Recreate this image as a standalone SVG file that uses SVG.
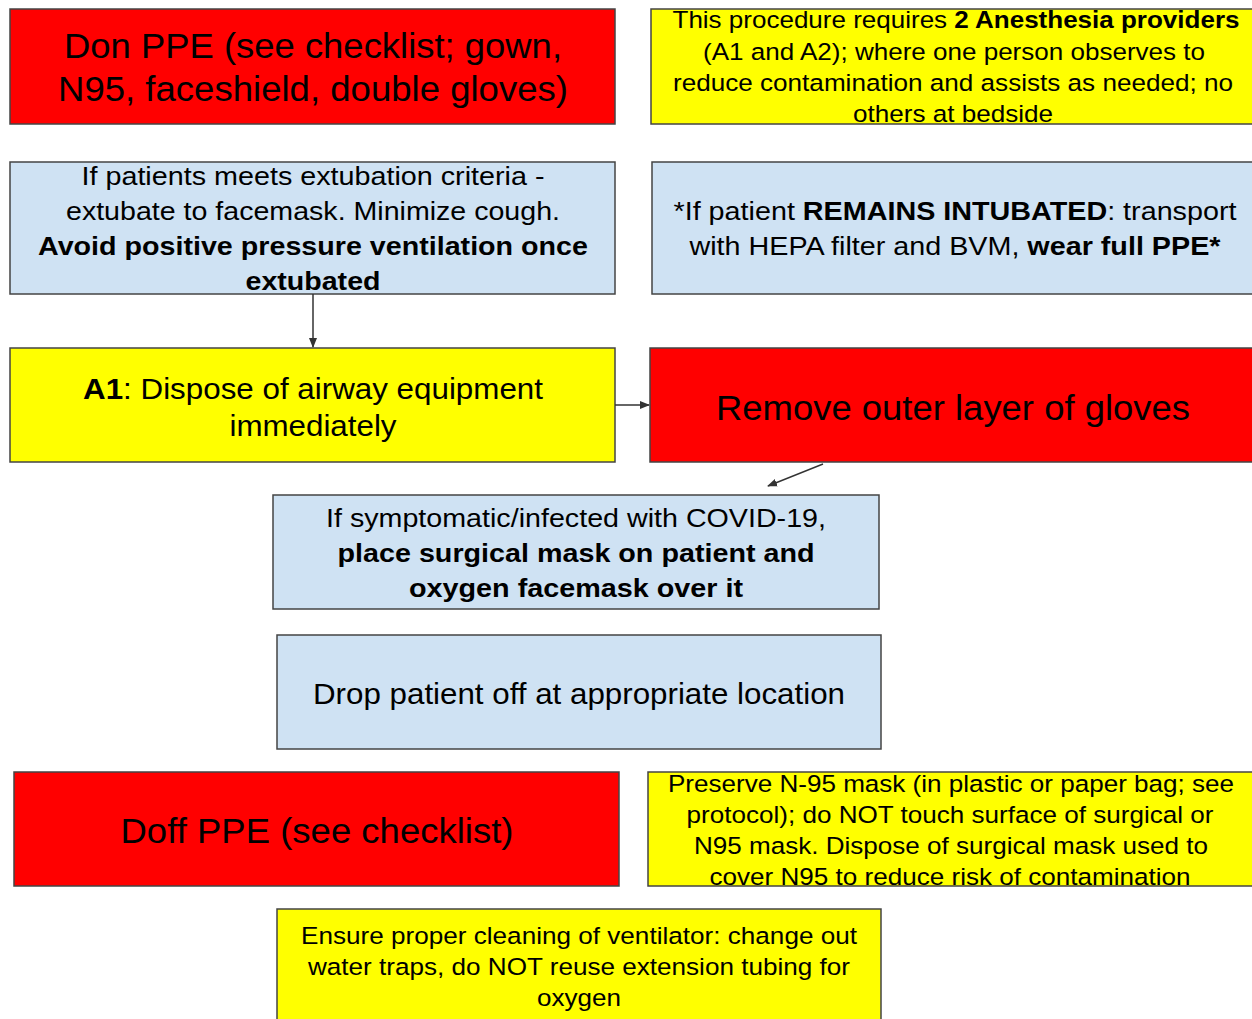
<svg xmlns="http://www.w3.org/2000/svg" width="1252" height="1019" viewBox="0 0 1252 1019">
<style>
text{font-family:"Liberation Sans",Arial,sans-serif;fill:#000;text-anchor:middle}
.box{stroke:#444;stroke-width:1.5}
.red{fill:#ff0000}.yel{fill:#ffff00}.blue{fill:#cfe2f3}
.b{font-weight:bold}
.conn{stroke:#333;stroke-width:1.5;fill:none;marker-end:url(#ah)}
</style>
<defs><marker id="ah" markerWidth="10" markerHeight="10" refX="9" refY="5" orient="auto" markerUnits="userSpaceOnUse"><path d="M0,1 L10,5 L0,9 z" fill="#333"/></marker></defs>
<rect width="1252" height="1019" fill="#fff"/>
<g id="n1"><rect class="box red" x="10" y="9" width="605" height="115"/>
<text font-size="35.5" x="313" y="58" textLength="498" lengthAdjust="spacingAndGlyphs">Don PPE (see checklist; gown,</text>
<text font-size="35.5" x="313" y="101" textLength="510" lengthAdjust="spacingAndGlyphs">N95, faceshield, double gloves)</text></g>
<g id="n2"><rect class="box yel" x="651" y="9" width="605" height="115"/>
<text font-size="24.5" x="956" y="28" textLength="567" lengthAdjust="spacingAndGlyphs">This procedure requires <tspan class="b">2 Anesthesia providers</tspan></text>
<text font-size="24.5" x="954" y="60" textLength="502" lengthAdjust="spacingAndGlyphs">(A1 and A2); where one person observes to</text>
<text font-size="24.5" x="953" y="91" textLength="560" lengthAdjust="spacingAndGlyphs">reduce contamination and assists as needed; no</text>
<text font-size="24.5" x="953" y="122" textLength="200" lengthAdjust="spacingAndGlyphs">others at bedside</text></g>
<g id="n3"><rect class="box blue" x="10" y="162" width="605" height="132"/>
<text font-size="26.5" x="313" y="185" textLength="463" lengthAdjust="spacingAndGlyphs">If patients meets extubation criteria -</text>
<text font-size="26.5" x="313" y="220" textLength="494" lengthAdjust="spacingAndGlyphs">extubate to facemask. Minimize cough.</text>
<text font-size="26.5" x="313" y="255" class="b" textLength="550" lengthAdjust="spacingAndGlyphs">Avoid positive pressure ventilation once</text>
<text font-size="26.5" x="313" y="290" class="b" textLength="135" lengthAdjust="spacingAndGlyphs">extubated</text></g>
<g id="n4"><rect class="box blue" x="652" y="162" width="604" height="132"/>
<text font-size="26.5" x="955" y="220" textLength="563" lengthAdjust="spacingAndGlyphs">*If patient <tspan class="b">REMAINS INTUBATED</tspan>: transport</text>
<text font-size="26.5" x="955" y="255" textLength="531" lengthAdjust="spacingAndGlyphs">with HEPA filter and BVM, <tspan class="b">wear full PPE*</tspan></text></g>
<g id="n5"><rect class="box yel" x="10" y="348" width="605" height="114"/>
<text font-size="29.5" x="313" y="399" textLength="460" lengthAdjust="spacingAndGlyphs"><tspan class="b">A1</tspan>: Dispose of airway equipment</text>
<text font-size="29.5" x="313" y="436" textLength="167" lengthAdjust="spacingAndGlyphs">immediately</text></g>
<g id="n6"><rect class="box red" x="650" y="348" width="606" height="114"/>
<text font-size="35.5" x="953" y="420" textLength="474" lengthAdjust="spacingAndGlyphs">Remove outer layer of gloves</text></g>
<g id="n7"><rect class="box blue" x="273" y="495" width="606" height="114"/>
<text font-size="26.5" x="576" y="527" textLength="500" lengthAdjust="spacingAndGlyphs">If symptomatic/infected with COVID-19,</text>
<text font-size="26.5" x="576" y="562" class="b" textLength="477" lengthAdjust="spacingAndGlyphs">place surgical mask on patient and</text>
<text font-size="26.5" x="576" y="597" class="b" textLength="334" lengthAdjust="spacingAndGlyphs">oxygen facemask over it</text></g>
<g id="n8"><rect class="box blue" x="277" y="635" width="604" height="114"/>
<text font-size="29.5" x="579" y="704" textLength="532" lengthAdjust="spacingAndGlyphs">Drop patient off at appropriate location</text></g>
<g id="n9"><rect class="box red" x="14" y="772" width="605" height="114"/>
<text font-size="35.5" x="317" y="843" textLength="393" lengthAdjust="spacingAndGlyphs">Doff PPE (see checklist)</text></g>
<g id="n10"><rect class="box yel" x="648" y="772" width="608" height="114"/>
<text font-size="24.5" x="951" y="792" textLength="566" lengthAdjust="spacingAndGlyphs">Preserve N-95 mask (in plastic or paper bag; see</text>
<text font-size="24.5" x="950" y="823" textLength="527" lengthAdjust="spacingAndGlyphs">protocol); do NOT touch surface of surgical or</text>
<text font-size="24.5" x="951" y="854" textLength="514" lengthAdjust="spacingAndGlyphs">N95 mask. Dispose of surgical mask used to</text>
<text font-size="24.5" x="950" y="885" textLength="481" lengthAdjust="spacingAndGlyphs">cover N95 to reduce risk of contamination</text></g>
<g id="n11"><rect class="box yel" x="277" y="909" width="604" height="115"/>
<text font-size="24.5" x="579" y="944" textLength="556" lengthAdjust="spacingAndGlyphs">Ensure proper cleaning of ventilator: change out</text>
<text font-size="24.5" x="579" y="975" textLength="542" lengthAdjust="spacingAndGlyphs">water traps, do NOT reuse extension tubing for</text>
<text font-size="24.5" x="579" y="1006" textLength="84" lengthAdjust="spacingAndGlyphs">oxygen</text></g>
<g id="connectors">
<line class="conn" x1="313" y1="294" x2="313" y2="347"/>
<line class="conn" x1="615" y1="405" x2="649" y2="405"/>
<line class="conn" x1="823" y1="464" x2="768" y2="486"/>
</g>
</svg>
